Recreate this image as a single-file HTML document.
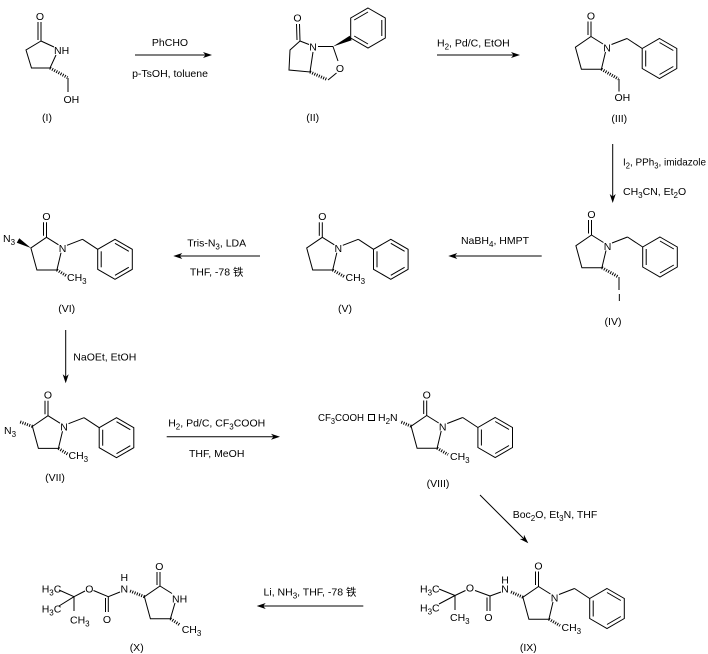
<!DOCTYPE html>
<html>
<head>
<meta charset="utf-8">
<style>
html,body{margin:0;padding:0;background:#fff;}
svg{display:block;}
line,polyline{stroke:#000;stroke-width:1;fill:none;}
polygon.r{stroke:#000;stroke-width:1;fill:none;}
polygon.f{fill:#000;stroke:none;}
.h{stroke:#000;stroke-width:3;stroke-dasharray:1 1.4;fill:none;}
text{font-family:"Liberation Sans","Noto Sans CJK SC",sans-serif;font-size:10.5px;fill:#000;}
.s{font-size:8px;}
</style>
</head>
<body>
<svg xmlns="http://www.w3.org/2000/svg" width="708" height="654" viewBox="0 0 708 654">
<rect width="708" height="654" fill="#fff"/>

<!-- ========== (I) ========== -->
<line x1="41" y1="41" x2="41" y2="22"/>
<line x1="38" y1="40" x2="38" y2="22"/>
<text x="40" y="20" text-anchor="middle">O</text>
<line x1="41" y1="41" x2="54" y2="47"/>
<text x="54" y="54">NH</text>
<polyline points="56,55 50,68 31.5,68 26,50 41,41"/>
<line class="h" x1="50" y1="68" x2="67.5" y2="77.5"/>
<line x1="68" y1="78" x2="68" y2="92"/>
<text x="63.5" y="103">OH</text>
<text x="47" y="121" text-anchor="middle">(I)</text>

<!-- arrow 1 -->
<line x1="135" y1="55" x2="208" y2="55"/>
<polygon class="f" points="212,55 203,52 205.5,55 203,58"/>
<text x="170" y="46" text-anchor="middle">PhCHO</text>
<text x="170" y="77" text-anchor="middle">p-TsOH, toluene</text>

<!-- ========== (II) ========== -->
<line x1="300" y1="41" x2="299.5" y2="24"/>
<line x1="297" y1="40" x2="296.5" y2="24"/>
<text x="297.5" y="21.5" text-anchor="middle">O</text>
<line x1="300" y1="41" x2="309" y2="44.5"/>
<text x="313" y="50.5" text-anchor="middle">N</text>
<polyline points="300,41 290,50 289,70 310,72 313,52"/>
<line x1="318" y1="46.5" x2="333" y2="46.5"/>
<polygon class="f" points="333,46.5 351.7,40.3 349.7,35.7"/>
<line x1="333" y1="46.5" x2="338" y2="61"/>
<text x="340" y="72" text-anchor="middle">O</text>
<line x1="336.5" y1="73" x2="328" y2="80"/>
<line class="h" x1="310" y1="72" x2="327" y2="79.5"/>
<polygon class="r" points="368,8 385.3,18 385.3,38 368,48 350.7,38 350.7,18"/>
<line x1="354.2" y1="20" x2="368" y2="12"/>
<line x1="381.8" y1="20" x2="381.8" y2="36"/>
<line x1="354.2" y1="36" x2="368" y2="44"/>
<text x="312.7" y="121" text-anchor="middle">(II)</text>

<!-- arrow 2 -->
<line x1="437" y1="55" x2="516" y2="55"/>
<polygon class="f" points="520,55 511,52 513.5,55 511,58"/>
<text x="437" y="46.5">H<tspan class="s" dy="3">2</tspan><tspan dy="-3">, Pd/C, EtOH</tspan></text>

<!-- ========== (III) ========== -->
<g transform="translate(591,36.5)">
<line x1="0" y1="0" x2="0" y2="-15"/>
<line x1="-3" y1="-1.5" x2="-3" y2="-15"/>
<text x="0" y="-17.2" text-anchor="middle">O</text>
<line x1="0" y1="0" x2="12" y2="7.5"/>
<text x="16" y="14.8" text-anchor="middle">N</text>
<polyline points="14.5,15.5 10.4,32.7 -9.6,32.7 -15.6,10.7 0,0"/>
<line x1="20.5" y1="8" x2="36" y2="2"/>
<line x1="36" y1="2" x2="51.2" y2="12"/>
<polygon class="r" points="68.5,2 85.8,12 85.8,32 68.5,42 51.2,32 51.2,12"/>
<line x1="54.7" y1="14" x2="54.7" y2="30"/>
<line x1="68.5" y1="6" x2="82.3" y2="14"/>
<line x1="82.3" y1="30" x2="68.5" y2="38"/>
</g>
<line class="h" x1="601.4" y1="69.2" x2="618.5" y2="79"/>
<line x1="619" y1="79" x2="619" y2="91.5"/>
<text x="614.5" y="101">OH</text>
<text x="619.3" y="122" text-anchor="middle">(III)</text>

<!-- arrow 3 (down) -->
<line x1="612.7" y1="144" x2="612.7" y2="199"/>
<polygon class="f" points="612.7,203 609.7,194 612.7,196.5 615.7,194"/>
<text x="623" y="165.5" textLength="83" lengthAdjust="spacingAndGlyphs">I<tspan class="s" dy="3">2</tspan><tspan dy="-3">, PPh</tspan><tspan class="s" dy="3">3</tspan><tspan dy="-3">, imidazole</tspan></text>
<text x="623" y="195">CH<tspan class="s" dy="3">3</tspan><tspan dy="-3">CN, Et</tspan><tspan class="s" dy="3">2</tspan><tspan dy="-3">O</tspan></text>

<!-- ========== (IV) ========== -->
<g transform="translate(591.5,235)">
<line x1="0" y1="0" x2="0" y2="-15"/>
<line x1="-3" y1="-1.5" x2="-3" y2="-15"/>
<text x="0" y="-17.2" text-anchor="middle">O</text>
<line x1="0" y1="0" x2="12" y2="7.5"/>
<text x="16" y="14.8" text-anchor="middle">N</text>
<polyline points="14.5,15.5 10.4,32.7 -9.6,32.7 -15.6,10.7 0,0"/>
<line x1="20.5" y1="8" x2="36" y2="2"/>
<line x1="36" y1="2" x2="51.2" y2="12"/>
<polygon class="r" points="68.5,2 85.8,12 85.8,32 68.5,42 51.2,32 51.2,12"/>
<line x1="54.7" y1="14" x2="54.7" y2="30"/>
<line x1="68.5" y1="6" x2="82.3" y2="14"/>
<line x1="82.3" y1="30" x2="68.5" y2="38"/>
</g>
<line class="h" x1="601.9" y1="267.7" x2="618.5" y2="277"/>
<line x1="619" y1="277" x2="619" y2="290"/>
<text x="619.3" y="301" text-anchor="middle">I</text>
<text x="613" y="325" text-anchor="middle">(IV)</text>

<!-- arrow 4 (left) -->
<line x1="541.7" y1="256" x2="452" y2="256"/>
<polygon class="f" points="448.3,256 457.3,253 454.8,256 457.3,259"/>
<text x="495" y="244" text-anchor="middle">NaBH<tspan class="s" dy="3">4</tspan><tspan dy="-3">, HMPT</tspan></text>

<!-- ========== (V) ========== -->
<g transform="translate(322.3,237.3)">
<line x1="0" y1="0" x2="0" y2="-15"/>
<line x1="-3" y1="-1.5" x2="-3" y2="-15"/>
<text x="0" y="-17.2" text-anchor="middle">O</text>
<line x1="0" y1="0" x2="12" y2="7.5"/>
<text x="16" y="14.8" text-anchor="middle">N</text>
<polyline points="14.5,15.5 10.4,32.7 -9.6,32.7 -15.6,10.7 0,0"/>
<line x1="20.5" y1="8" x2="36" y2="2"/>
<line x1="36" y1="2" x2="51.2" y2="12"/>
<polygon class="r" points="68.5,2 85.8,12 85.8,32 68.5,42 51.2,32 51.2,12"/>
<line x1="54.7" y1="14" x2="54.7" y2="30"/>
<line x1="68.5" y1="6" x2="82.3" y2="14"/>
<line x1="82.3" y1="30" x2="68.5" y2="38"/>
</g>
<line class="h" x1="332.7" y1="270" x2="344" y2="276.5"/>
<text x="345.5" y="281">CH<tspan class="s" dy="3">3</tspan></text>
<text x="345" y="312" text-anchor="middle">(V)</text>

<!-- arrow 5 (left) -->
<line x1="260" y1="256" x2="177" y2="256"/>
<polygon class="f" points="173.3,256 182.3,253 179.8,256 182.3,259"/>
<text x="216.7" y="246.5" text-anchor="middle">Tris-N<tspan class="s" dy="3">3</tspan><tspan dy="-3">, LDA</tspan></text>
<text x="216.7" y="275.5" text-anchor="middle">THF, -78 铁</text>

<!-- ========== (VI) ========== -->
<g transform="translate(46.5,237.3)">
<line x1="0" y1="0" x2="0" y2="-15"/>
<line x1="-3" y1="-1.5" x2="-3" y2="-15"/>
<text x="0" y="-17.2" text-anchor="middle">O</text>
<line x1="0" y1="0" x2="12" y2="7.5"/>
<text x="16" y="14.8" text-anchor="middle">N</text>
<polyline points="14.5,15.5 10.4,32.7 -9.6,32.7 -15.6,10.7 0,0"/>
<line x1="20.5" y1="8" x2="36" y2="2"/>
<line x1="36" y1="2" x2="51.2" y2="12"/>
<polygon class="r" points="68.5,2 85.8,12 85.8,32 68.5,42 51.2,32 51.2,12"/>
<line x1="54.7" y1="14" x2="54.7" y2="30"/>
<line x1="68.5" y1="6" x2="82.3" y2="14"/>
<line x1="82.3" y1="30" x2="68.5" y2="38"/>
</g>
<polygon class="f" points="30.9,248 19.25,238.3 16.75,242.7"/>
<text x="3" y="242">N<tspan class="s" dy="3">3</tspan></text>
<line class="h" x1="56.9" y1="270" x2="66" y2="275.5"/>
<text x="67" y="281">CH<tspan class="s" dy="3">3</tspan></text>
<text x="66.7" y="312" text-anchor="middle">(VI)</text>

<!-- arrow 6 (down) -->
<line x1="65.7" y1="330" x2="65.7" y2="379.5"/>
<polygon class="f" points="65.7,383.3 62.7,374.3 65.7,376.8 68.7,374.3"/>
<text x="73.3" y="360.5">NaOEt, EtOH</text>

<!-- ========== (VII) ========== -->
<g transform="translate(48,415.7)">
<line x1="0" y1="0" x2="0" y2="-15"/>
<line x1="-3" y1="-1.5" x2="-3" y2="-15"/>
<text x="0" y="-17.2" text-anchor="middle">O</text>
<line x1="0" y1="0" x2="12" y2="7.5"/>
<text x="16" y="14.8" text-anchor="middle">N</text>
<polyline points="14.5,15.5 10.4,32.7 -9.6,32.7 -15.6,10.7 0,0"/>
<line x1="20.5" y1="8" x2="36" y2="2"/>
<line x1="36" y1="2" x2="51.2" y2="12"/>
<polygon class="r" points="68.5,2 85.8,12 85.8,32 68.5,42 51.2,32 51.2,12"/>
<line x1="54.7" y1="14" x2="54.7" y2="30"/>
<line x1="68.5" y1="6" x2="82.3" y2="14"/>
<line x1="82.3" y1="30" x2="68.5" y2="38"/>
</g>
<line class="h" x1="32.4" y1="426.4" x2="19" y2="421.5"/>
<text x="4" y="434">N<tspan class="s" dy="3">3</tspan></text>
<line class="h" x1="58.4" y1="448.4" x2="67.5" y2="454"/>
<text x="68.5" y="459">CH<tspan class="s" dy="3">3</tspan></text>
<text x="55" y="481" text-anchor="middle">(VII)</text>

<!-- arrow 7 (right) -->
<line x1="166.7" y1="436.7" x2="276" y2="436.7"/>
<polygon class="f" points="280,436.7 271,433.7 273.5,436.7 271,439.7"/>
<text x="216.7" y="426.5" text-anchor="middle">H<tspan class="s" dy="3">2</tspan><tspan dy="-3">, Pd/C, CF</tspan><tspan class="s" dy="3">3</tspan><tspan dy="-3">COOH</tspan></text>
<text x="216.7" y="457" text-anchor="middle">THF, MeOH</text>

<!-- ========== (VIII) ========== -->
<text x="318" y="421" textLength="46" lengthAdjust="spacingAndGlyphs">CF<tspan class="s" dy="3">3</tspan><tspan dy="-3">COOH</tspan></text>
<rect x="368.5" y="414.5" width="6" height="6" fill="none" stroke="#000" stroke-width="1"/>
<text x="378" y="421">H<tspan class="s" dy="3">2</tspan><tspan dy="-3">N</tspan></text>
<g transform="translate(426.7,415.5)">
<line x1="0" y1="0" x2="0" y2="-15"/>
<line x1="-3" y1="-1.5" x2="-3" y2="-15"/>
<text x="0" y="-17.2" text-anchor="middle">O</text>
<line x1="0" y1="0" x2="12" y2="7.5"/>
<text x="16" y="14.8" text-anchor="middle">N</text>
<polyline points="14.5,15.5 10.4,32.7 -9.6,32.7 -15.6,10.7 0,0"/>
<line x1="20.5" y1="8" x2="36" y2="2"/>
<line x1="36" y1="2" x2="51.2" y2="12"/>
<polygon class="r" points="68.5,2 85.8,12 85.8,32 68.5,42 51.2,32 51.2,12"/>
<line x1="54.7" y1="14" x2="54.7" y2="30"/>
<line x1="68.5" y1="6" x2="82.3" y2="14"/>
<line x1="82.3" y1="30" x2="68.5" y2="38"/>
</g>
<line class="h" x1="411.1" y1="426.2" x2="400" y2="421.5"/>
<line class="h" x1="437.1" y1="448.2" x2="448" y2="454.5"/>
<text x="450" y="460">CH<tspan class="s" dy="3">3</tspan></text>
<text x="438" y="487" text-anchor="middle">(VIII)</text>

<!-- arrow 8 (diagonal) -->
<line x1="480" y1="495" x2="525" y2="540"/>
<polygon class="f" points="528.3,543.3 519.8,539 523.7,538.7 524,534.8"/>
<text x="512.7" y="518">Boc<tspan class="s" dy="3">2</tspan><tspan dy="-3">O, Et</tspan><tspan class="s" dy="3">3</tspan><tspan dy="-3">N, THF</tspan></text>

<!-- ========== (IX) ========== -->
<g transform="translate(538.5,586.5)">
<line x1="0" y1="0" x2="0" y2="-15"/>
<line x1="-3" y1="-1.5" x2="-3" y2="-15"/>
<text x="0" y="-17.2" text-anchor="middle">O</text>
<line x1="0" y1="0" x2="12" y2="7.5"/>
<text x="16" y="14.8" text-anchor="middle">N</text>
<polyline points="14.5,15.5 10.4,32.7 -9.6,32.7 -15.6,10.7 0,0"/>
<line x1="20.5" y1="8" x2="36" y2="2"/>
<line x1="36" y1="2" x2="51.2" y2="12"/>
<polygon class="r" points="68.5,2 85.8,12 85.8,32 68.5,42 51.2,32 51.2,12"/>
<line x1="54.7" y1="14" x2="54.7" y2="30"/>
<line x1="68.5" y1="6" x2="82.3" y2="14"/>
<line x1="82.3" y1="30" x2="68.5" y2="38"/>
</g>
<line class="h" x1="522.9" y1="597.2" x2="510" y2="591.5"/>
<text x="505" y="592.3" text-anchor="middle">N</text>
<text x="505" y="583.3" text-anchor="middle">H</text>
<line x1="501" y1="592" x2="490" y2="596"/>
<line x1="490" y1="596" x2="490" y2="611"/>
<line x1="487" y1="597.5" x2="487" y2="611"/>
<text x="488.5" y="621" text-anchor="middle">O</text>
<line x1="490" y1="596" x2="475" y2="590.5"/>
<text x="470" y="591.5" text-anchor="middle">O</text>
<line x1="465.5" y1="590.5" x2="455" y2="595.5"/>
<line x1="455" y1="595.5" x2="439" y2="589"/>
<line x1="455" y1="595.5" x2="439" y2="604"/>
<line x1="455" y1="595.5" x2="455" y2="610"/>
<text x="420" y="592.5">H<tspan class="s" dy="3">3</tspan><tspan dy="-3">C</tspan></text>
<text x="420" y="611.5">H<tspan class="s" dy="3">3</tspan><tspan dy="-3">C</tspan></text>
<text x="450" y="621">CH<tspan class="s" dy="3">3</tspan></text>
<line class="h" x1="548.9" y1="619.2" x2="560" y2="625.5"/>
<text x="561.5" y="631">CH<tspan class="s" dy="3">3</tspan></text>
<text x="528.3" y="651" text-anchor="middle">(IX)</text>

<!-- arrow 9 (left) -->
<line x1="363.3" y1="606" x2="260.5" y2="606"/>
<polygon class="f" points="256.7,606 265.7,603 263.2,606 265.7,609"/>
<text x="310" y="595.5" text-anchor="middle">Li, NH<tspan class="s" dy="3">3</tspan><tspan dy="-3">, THF, -78 铁</tspan></text>

<!-- ========== (X) ========== -->
<line x1="160" y1="586" x2="160" y2="572"/>
<line x1="157" y1="585" x2="157" y2="572"/>
<text x="159.3" y="570" text-anchor="middle">O</text>
<line x1="160" y1="586" x2="172" y2="593.5"/>
<text x="172" y="602.3">NH</text>
<polyline points="175,603 170.4,618.7 150.4,618.7 144.4,596.7 160,586"/>
<line class="h" x1="144.4" y1="596.7" x2="130" y2="591"/>
<text x="124.3" y="592.5" text-anchor="middle">N</text>
<text x="124.3" y="581" text-anchor="middle">H</text>
<line x1="120" y1="592" x2="108.3" y2="596.7"/>
<line x1="108.3" y1="596.7" x2="108.3" y2="612"/>
<line x1="105.5" y1="598" x2="105.5" y2="612"/>
<text x="107" y="623" text-anchor="middle">O</text>
<line x1="108.3" y1="596.7" x2="93.5" y2="590.5"/>
<text x="89.3" y="592.5" text-anchor="middle">O</text>
<line x1="85" y1="591" x2="74" y2="596.7"/>
<line x1="74" y1="596.7" x2="59" y2="590"/>
<line x1="74" y1="596.7" x2="59" y2="606"/>
<line x1="74" y1="596.7" x2="74" y2="611"/>
<text x="41.7" y="592.5">H<tspan class="s" dy="3">3</tspan><tspan dy="-3">C</tspan></text>
<text x="41.7" y="612.5">H<tspan class="s" dy="3">3</tspan><tspan dy="-3">C</tspan></text>
<text x="70" y="623.5">CH<tspan class="s" dy="3">3</tspan></text>
<line class="h" x1="170.4" y1="618.7" x2="180" y2="625"/>
<text x="181.7" y="633">CH<tspan class="s" dy="3">3</tspan></text>
<text x="136.7" y="651" text-anchor="middle">(X)</text>

</svg>
</body>
</html>
